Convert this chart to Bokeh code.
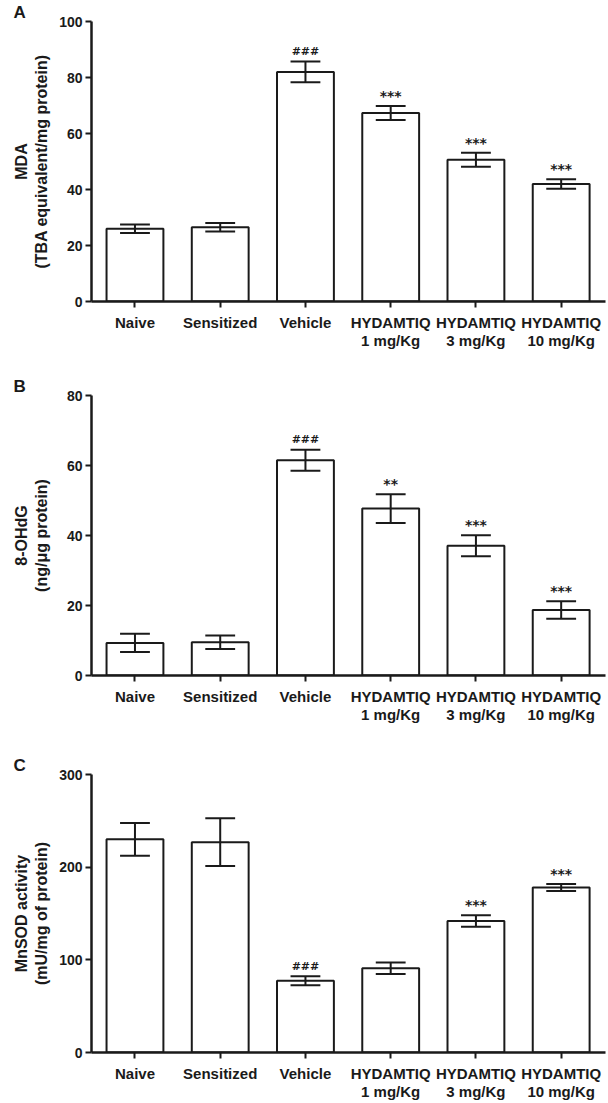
from bokeh.plotting import figure
from bokeh.models import Range1d, FixedTicker, ColumnDataSource
from bokeh.layouts import column
from bokeh.embed import file_html
from bokeh.resources import INLINE
from bokeh.core.properties import value

groups = ["Naive", "Sensitized", "Vehicle",
          "HYDAMTIQ\n1 mg/Kg", "HYDAMTIQ\n3 mg/Kg", "HYDAMTIQ\n10 mg/Kg"]

mda_mean = [26.0, 26.5, 82.0, 67.3, 50.6, 42.0]
mda_err = [1.5, 1.5, 3.7, 2.5, 2.5, 1.7]
mda_sig = ["", "", "###", "***", "***", "***"]

ohdg_mean = [9.3, 9.5, 61.5, 47.7, 37.1, 18.7]
ohdg_err = [2.6, 1.9, 3.0, 4.1, 3.0, 2.5]
ohdg_sig = ["", "", "###", "**", "***", "***"]

mnsod_mean = [230.0, 227.0, 77.5, 91.0, 142.0, 178.0]
mnsod_err = [17.6, 25.7, 4.8, 6.2, 6.2, 3.7]
mnsod_sig = ["", "", "###", "", "***", "***"]

INK = "#1a1a1a"
FONT = "Liberation Sans"
LEFT = 91


def panel(letter, ylabel, means, errs, sigs, ymax, ystep, height, bbottom, lab_standoff):
    p = figure(width=608, height=height, x_range=Range1d(-0.51, 5.52),
               y_range=Range1d(0, ymax), output_backend="svg", toolbar_location=None,
               min_border_left=LEFT, min_border_right=3, min_border_top=0,
               min_border_bottom=bbottom)
    p.outline_line_color = None
    p.grid.visible = False
    p.background_fill_color = "white"
    xs = list(range(len(groups)))
    hw = 0.175
    src = ColumnDataSource(dict(
        x=xs, top=means,
        up=[m + e for m, e in zip(means, errs)],
        lo=[m - e for m, e in zip(means, errs)],
        cl=[x - hw for x in xs], cr=[x + hw for x in xs]))
    p.vbar(x="x", top="top", bottom=0, width=0.667, fill_color="white",
           line_color=INK, line_width=2, source=src)
    p.segment(x0="x", y0="lo", x1="x", y1="up", line_color=INK, line_width=2, source=src)
    p.segment(x0="cl", y0="up", x1="cr", y1="up", line_color=INK, line_width=2, source=src)
    p.segment(x0="cl", y0="lo", x1="cr", y1="lo", line_color=INK, line_width=2, source=src)

    hx, hy, ht, sx, sy, st = [], [], [], [], [], []
    for x, m, e, s in zip(xs, means, errs, sigs):
        if s.startswith("#"):
            hx.append(x); hy.append(m + e); ht.append(s)
        elif s:
            sx.append(x); sy.append(m + e); st.append(s)
    p.text(x=hx, y=hy, text=ht, text_align="center", text_baseline="middle",
           y_offset=-10, text_font=value("DejaVu Sans"), text_font_style="bold",
           text_font_size="11px", text_color=INK)
    p.text(x=sx, y=sy, text=st, text_align="center", text_baseline="middle",
           y_offset=-10, text_font=value("DejaVu Sans"), text_font_style="bold",
           text_font_size="14px", text_color=INK)

    for ax in (p.xaxis, p.yaxis):
        ax.axis_line_color = INK
        ax.axis_line_width = 2.5
        ax.major_tick_line_color = INK
        ax.major_tick_line_width = 2
        ax.major_tick_out = 6
        ax.major_tick_in = 0
        ax.minor_tick_line_color = None
        ax.major_label_text_font = FONT
        ax.major_label_text_font_style = "bold"
        ax.major_label_text_color = INK

    p.xaxis.ticker = FixedTicker(ticks=xs)
    p.xaxis.major_label_overrides = {i: g for i, g in enumerate(groups)}
    p.xaxis.major_label_text_font_size = "15px"
    p.xaxis.major_label_text_line_height = 1.1
    p.xaxis.major_label_standoff = 6

    p.yaxis.ticker = FixedTicker(ticks=list(range(0, ymax + 1, ystep)))
    p.yaxis.major_label_text_font_size = "14px"
    p.yaxis.major_label_standoff = 3
    p.yaxis.axis_label = ylabel
    p.yaxis.axis_label_text_font = FONT
    p.yaxis.axis_label_text_font_style = "bold"
    p.yaxis.axis_label_text_font_size = "16px"
    p.yaxis.axis_label_text_color = INK
    p.yaxis.axis_label_standoff = lab_standoff

    p.title.text = letter
    p.title.align = "left"
    p.title.offset = 13 - LEFT
    p.title.standoff = 0
    p.title.text_font = FONT
    p.title.text_font_style = "bold"
    p.title.text_font_size = "17px"
    p.title.text_color = INK
    return p


pA = panel("A", "MDA\n(TBA equivalent/mg protein)", mda_mean, mda_err, mda_sig,
           100, 20, 374, 73, 6)
pB = panel("B", "8-OHdG\n(ng/\u03bcg protein)", ohdg_mean, ohdg_err, ohdg_sig,
           80, 20, 379, 78, 14)
pC = panel("C", "MnSOD activity\n(mU/mg of protein)", mnsod_mean, mnsod_err, mnsod_sig,
           300, 100, 350, 50, 6)

layout = column(pA, pB, pC, spacing=0)
open("out.html", "w").write(file_html(layout, INLINE))
